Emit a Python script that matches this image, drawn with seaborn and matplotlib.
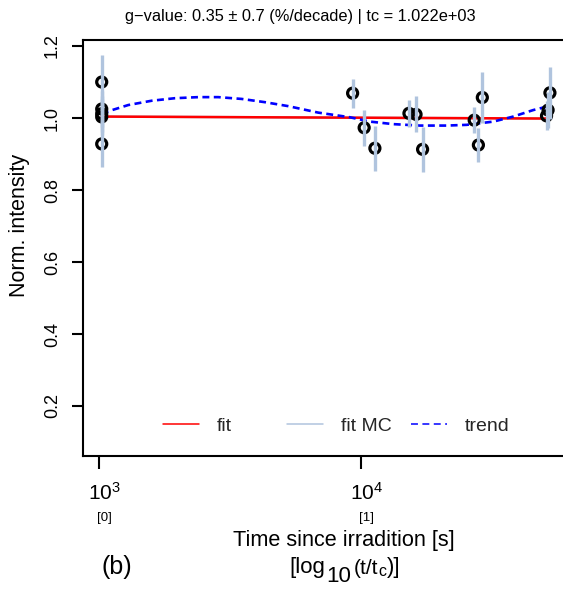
import numpy as np
import pandas as pd
import matplotlib
matplotlib.use("Agg")
import matplotlib.pyplot as plt
import matplotlib.transforms as mtransforms
import seaborn as sns

# ---------------- data ----------------
tc = 1022.0
time_s = [1022, 1022, 1022, 1022, 1022,
          9268, 10257, 11272, 15205, 16181, 17140,
          26977, 27990, 28973, 50933, 51642, 52481]
intensity = [1.100, 1.025, 1.012, 1.003, 0.928,
             1.069, 0.973, 0.916, 1.013, 1.010, 0.913,
             0.994, 0.925, 1.057, 1.006, 1.022, 1.070]
intensity_err = [0.075, 0.05, 0.05, 0.05, 0.065,
                 0.04, 0.05, 0.062, 0.037, 0.05, 0.062,
                 0.037, 0.047, 0.072, 0.04, 0.05, 0.073]

fit_t = [1022, 52481]
fit_y = [1.004, 0.9985]

trend_t = [1022, 1290, 1585, 1945, 2388, 2845, 3495, 4286, 5260, 6850,
           9057, 10795, 13250, 16750, 21180, 25250, 31910, 38020, 45290, 52000]
trend_y = [1.013, 1.036, 1.048, 1.055, 1.058, 1.058, 1.053, 1.044, 1.033, 1.015,
           1.002, 0.990, 0.983, 0.979, 0.979, 0.981, 0.990, 1.004, 1.022, 1.033]

x_ticks = [1e3, 1e4]
x_tick_labels = [r"$10^{3}$", r"$10^{4}$"]
x_sub_labels = ["[0]", "[1]"]
y_ticks = [0.2, 0.4, 0.6, 0.8, 1.0, 1.2]
y_tick_labels = ["0.2", "0.4", "0.6", "0.8", "1.0", "1.2"]

title = "g\u2212value: 0.35 \u00b1 0.7 (%/decade) | tc = 1.022e+03"
xlabel_line1 = "Time since irradition [s]"
# second x-label line: [log10(t/tc)] written as pieces (text, fontsize, baseline px)
xlabel_line2 = [("[log", 16, 573), ("10", 16, 582), ("(t/t", 15, 574),
                ("c", 11.5, 576), (")]", 16, 573)]

# ---------------- style ----------------
sns.set_theme(style="white")
plt.rcParams["font.family"] = ["Liberation Sans", "DejaVu Sans"]
plt.rcParams["mathtext.fontset"] = "custom"
plt.rcParams["mathtext.rm"] = "Liberation Sans"
plt.rcParams["mathtext.it"] = "Liberation Sans:italic"
plt.rcParams["mathtext.bf"] = "Liberation Sans:bold"
plt.rcParams["lines.scale_dashes"] = False

W, H, DPI = 563, 591, 100
fig = plt.figure(figsize=(W / DPI, H / DPI), dpi=DPI)
ax_left, ax_right, ax_top, ax_bot = 83, 563, 40, 456
ax = fig.add_axes([ax_left / W, 1 - ax_bot / H, (ax_right - ax_left) / W, (ax_bot - ax_top) / H])
ax.set_facecolor("white")

df = pd.DataFrame({"t": time_s, "I": intensity, "err": intensity_err})
fit_df = pd.DataFrame({"t": fit_t, "I": fit_y})
trend_df = pd.DataFrame({"t": trend_t, "I": trend_y})

ax.set_xscale("log")

# fit MC (hidden beneath fit)
sns.lineplot(data=fit_df, x="t", y="I", ax=ax, color="#B0C4DE", linewidth=1.8,
             sort=True, estimator=None, zorder=1)
mc_line = ax.lines[-1]
sns.lineplot(data=fit_df, x="t", y="I", ax=ax, color="#FF0000", linewidth=1.8,
             sort=True, estimator=None, zorder=2)
fit_line = ax.lines[-1]
sns.lineplot(data=trend_df, x="t", y="I", ax=ax, color="#0000FF", linewidth=1.9,
             sort=True, estimator=None, zorder=3)
trend_line = ax.lines[-1]
trend_line.set_linestyle((0, (5, 3.2)))

sns.scatterplot(data=df, x="t", y="I", ax=ax, marker="o", s=52,
                facecolor="none", edgecolor="black", linewidth=2.3, zorder=4)
ax.errorbar(df["t"], df["I"], yerr=df["err"], fmt="none", ecolor="#B0C4DE",
            elinewidth=2.4, capsize=0, zorder=5)

ax.set_xlim(867, 58870)
ax.set_ylim(0.0611, 1.2167)

ax.set_xticks(x_ticks)
ax.set_xticklabels(x_tick_labels)
ax.xaxis.set_minor_locator(matplotlib.ticker.NullLocator())
ax.set_yticks(y_ticks)
ax.set_yticklabels(y_tick_labels)
for lab in ax.get_yticklabels():
    lab.set_rotation(90)
    lab.set_va("center")

ax.tick_params(axis="x", which="major", direction="out", length=9.5, width=1.5,
               labelsize=15, pad=9.5, colors="black", bottom=True)
ax.tick_params(axis="y", which="major", direction="out", length=8, width=1.5,
               labelsize=13, pad=8, colors="black", left=True)

# R-style plotmath labels sit slightly right of the tick
shift = mtransforms.ScaledTranslation(5.5 / DPI, 0, fig.dpi_scale_trans)
for lab in ax.get_xticklabels():
    lab.set_transform(lab.get_transform() + shift)

for s in ["left", "top", "bottom"]:
    ax.spines[s].set_color("black")
    ax.spines[s].set_linewidth(1.5)
ax.spines["right"].set_visible(False)

for xv, sl in zip(x_ticks, x_sub_labels):
    ax.text(xv, -0.150, sl, transform=ax.get_xaxis_transform() + shift, ha="center",
            va="center", fontsize=9.5, color="black")

ax.set_xlabel(xlabel_line1, fontsize=15.6, color="black")
ax.xaxis.set_label_coords((344 - ax_left) / (ax_right - ax_left),
                          (ax_bot - 546) / (ax_bot - ax_top))
ax.xaxis.label.set_va("baseline")

# second x-label line, pieces chained left to right and centred at x=345 px
renderer = fig.canvas.get_renderer()
pieces = []
widths = []
for txt, fs, base in xlabel_line2:
    t = fig.text(0, 1 - base / H, txt, ha="left", va="baseline", fontsize=fs, color="black")
    widths.append(t.get_window_extent(renderer).width)
    pieces.append(t)
gaps = [1.0, 2.0, 0.5, 0.5]
total = sum(widths) + sum(gaps)
cur = 345 - total / 2
for i, t in enumerate(pieces):
    t.set_x(cur / W)
    cur += widths[i] + (gaps[i] if i < len(gaps) else 0)

ax.set_ylabel("Norm. intensity", fontsize=15.5, color="black")
ax.yaxis.set_label_coords((20 - ax_left) / (ax_right - ax_left),
                          (ax_bot - 225) / (ax_bot - ax_top))
ax.yaxis.label.set_va("center")

fig.text(300 / W, 1 - 17 / H, title, ha="center", va="center", fontsize=11.8, color="black")
fig.text(117 / W, 1 - 567 / H, "(b)", ha="center", va="center", fontsize=18, color="black")

# legends (three separate entries, R-style spacing)
leg_y = 1 - 426 / H
entries = [(fit_line, "fit", 163), (mc_line, "fit MC", 287), (trend_line, "trend", 411)]
for i, (handle, label, xs) in enumerate(entries):
    leg = ax.legend([handle], [label], loc="center left",
                    bbox_to_anchor=(xs / W, leg_y), bbox_transform=fig.transFigure,
                    frameon=False, fontsize=14, handlelength=36 / 19.4, handletextpad=18 / 19.4,
                    borderpad=0, borderaxespad=0)
    for ln in leg.get_lines():
        ln.set_linewidth(1.1)
    if i < len(entries) - 1:
        ax.add_artist(leg)

fig.savefig("out.png", dpi=DPI)
